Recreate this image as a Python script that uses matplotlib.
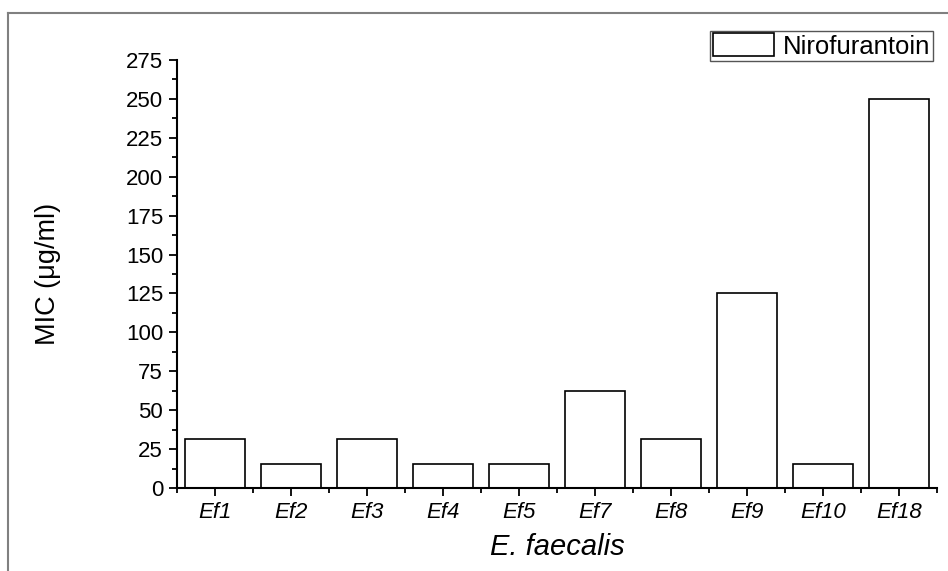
import matplotlib
matplotlib.use("Agg")
import matplotlib.pyplot as plt
from matplotlib.lines import Line2D
from matplotlib.ticker import MultipleLocator, FixedLocator

plt.rcParams['font.family'] = ['Liberation Sans', 'DejaVu Sans']

strains = ['Ef1', 'Ef2', 'Ef3', 'Ef4', 'Ef5', 'Ef7', 'Ef8', 'Ef9', 'Ef10', 'Ef18']
mic = [31.25, 15.6, 31.25, 15.6, 15.6, 62.5, 31.25, 125, 15.6, 250]
positions = list(range(1, len(strains) + 1))

fig = plt.figure(figsize=(9.48, 5.71), dpi=100)
ax = fig.add_axes([0.1867, 0.1454, 0.8017, 0.7495])

ax.bar(positions, mic, width=0.8, color='white', edgecolor='black',
       linewidth=1.2, label='Nirofurantoin')

ax.set_xlim(0.5, len(strains) + 0.5)
ax.set_ylim(0, 275)
ax.yaxis.set_major_locator(MultipleLocator(25))
ax.yaxis.set_minor_locator(MultipleLocator(12.5))
ax.set_xticks(positions)
ax.set_xticklabels(strains, fontstyle='italic')
ax.xaxis.set_minor_locator(FixedLocator([p + 0.5 for p in [0] + positions]))

for s in ['top', 'right']:
    ax.spines[s].set_visible(False)
for s in ['left', 'bottom']:
    ax.spines[s].set_linewidth(1.5)

ax.tick_params(axis='both', which='major', direction='out', length=6, width=1.3,
               labelsize=16, pad=4)
ax.tick_params(axis='both', which='minor', direction='out', length=3.5, width=1.3)

ax.set_ylabel('MIC (\u03bcg/ml)', fontsize=19.5)
ax.yaxis.set_label_coords(-0.152, 0.5)
ax.set_xlabel('E. faecalis', fontsize=21, fontstyle='italic')
ax.xaxis.set_label_coords(0.5, -0.105)

leg = ax.legend(loc='upper right', bbox_to_anchor=(0.995, 1.068), borderaxespad=0,
                fontsize=18.5, fancybox=False, framealpha=1, handlelength=2.4,
                handleheight=1.0, borderpad=0.1, handletextpad=0.35)
leg.get_frame().set_edgecolor('#555555')
leg.get_frame().set_linewidth(1.0)

# outer gray frame (top and left edges)
fig.add_artist(Line2D([8 / 948, 1.0], [1 - 13 / 571, 1 - 13 / 571],
                      transform=fig.transFigure, color='#808080', linewidth=1.5))
fig.add_artist(Line2D([8 / 948, 8 / 948], [0.0, 1 - 13 / 571],
                      transform=fig.transFigure, color='#808080', linewidth=1.5))

fig.savefig('out.png', dpi=100)
